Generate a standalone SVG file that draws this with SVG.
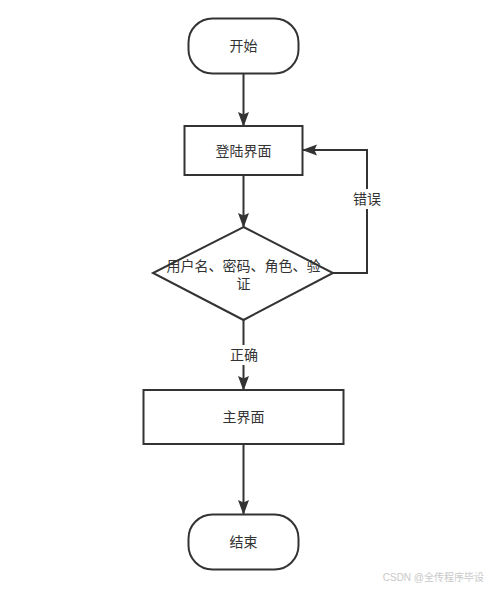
<svg xmlns="http://www.w3.org/2000/svg" width="488" height="589" viewBox="0 0 488 589">
<defs>
<marker id="arr" markerWidth="15" markerHeight="12" refX="14" refY="6" orient="auto" markerUnits="userSpaceOnUse" viewBox="0 0 15 12">
<path d="M0,0.5 L15,6 L0,11.5 L2.5,6 Z" fill="#333"/>
</marker>
<style>
.n{fill:#fff;stroke:#333;stroke-width:2}
.t{font-family:"Liberation Sans","Noto Sans CJK SC",sans-serif;font-size:14px;fill:#333;text-anchor:middle}
.e{fill:none;stroke:#333;stroke-width:2}
</style>
</defs>
<rect width="488" height="589" fill="#fff"/>
<g id="connectors">
<path class="e" d="M243.5,74 L243.5,126" marker-end="url(#arr)"/>
<path class="e" d="M243.5,175 L243.5,227" marker-end="url(#arr)"/>
<path class="e" d="M333,273 L367,273 L367,150 L303,150" marker-end="url(#arr)"/>
<rect x="350" y="189" width="34" height="20" fill="#fff"/>
<text class="t" x="367" y="204">错误</text>
<path class="e" d="M243.5,320 L243.5,390" marker-end="url(#arr)"/>
<rect x="226" y="345" width="36" height="20" fill="#fff"/>
<text class="t" x="244" y="360">正确</text>
<path class="e" d="M243.5,444 L243.5,514" marker-end="url(#arr)"/>
</g>
<g id="start">
<rect class="n" x="188.5" y="18.5" width="110" height="55" rx="24"/>
<text class="t" x="243.5" y="51">开始</text>
</g>
<g id="login">
<rect class="n" x="184.5" y="126" width="118" height="49"/>
<text class="t" x="243.5" y="156">登陆界面</text>
</g>
<g id="verify">
<polygon class="n" points="243.5,227 333,273 243.5,320 153,273"/>
<text class="t" x="243.5" y="271">用户名、密码、角色、验</text>
<text class="t" x="243.5" y="289">证</text>
</g>
<g id="main">
<rect class="n" x="143.5" y="390" width="200" height="54"/>
<text class="t" x="243.5" y="422">主界面</text>
</g>
<g id="end">
<rect class="n" x="188.5" y="514.5" width="110" height="55" rx="24"/>
<text class="t" x="243.5" y="547">结束</text>
</g>
<text x="484" y="581" font-family="'Liberation Sans','Noto Sans CJK SC',sans-serif" font-size="10" fill="#c8c8c8" text-anchor="end">CSDN @全传程序毕设</text>
</svg>
